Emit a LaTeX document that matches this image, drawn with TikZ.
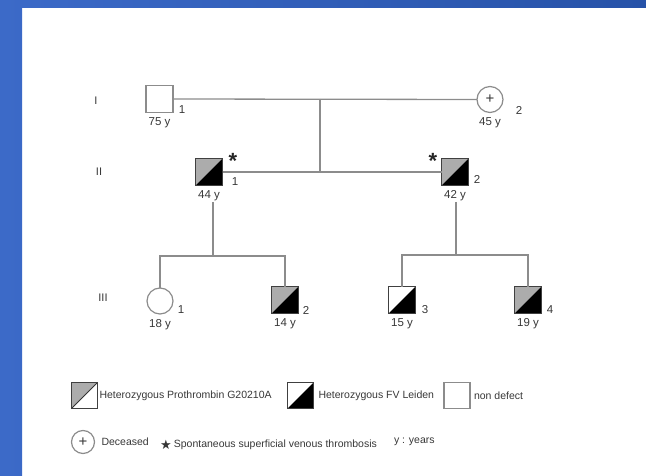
\documentclass[tikz,border=0pt]{standalone}
\usepackage{fontspec}
\setmainfont{Liberation Sans}
\newfontfamily\symfont{DejaVu Sans}
\usetikzlibrary{
    calc,
    positioning,
    shapes.geometric
}
\definecolor{framelight}{RGB}{60,106,200}
\definecolor{framedark}{RGB}{38,82,168}
\definecolor{linegray}{RGB}{140,140,140}
\definecolor{textgray}{RGB}{55,55,55}
\definecolor{halfgray}{RGB}{172,172,172}
\tikzset{
    every picture/.style = {
        line width = 1.2pt
    },
    every node/.style = {
        inner sep = 1pt,
        outer sep = 0pt,
        text = textgray,
        font = \fontsize{11.5}{13}\selectfont
    },
    kin/.style = {
        draw = linegray,
        line width = 1.3pt
    },
    male/.style = {
        rectangle,
        draw = black!75,
        line width = 1.3pt,
        minimum size = 27pt
    },
    healthy/.style = {
        rectangle,
        draw = linegray,
        line width = 1.3pt,
        minimum size = 27pt
    },
    female/.style = {
        circle,
        draw = linegray,
        line width = 1.2pt,
        minimum size = 26pt,
        font = \fontsize{15}{15}\selectfont
    },
    prothr/.style = {
        path picture = {
            \fill[halfgray] (path picture bounding box.north west) -- (path picture bounding box.south west)
                -- (path picture bounding box.north east) -- cycle;
            \draw[black!80, line width = 1pt] (path picture bounding box.south west)
                -- (path picture bounding box.north east);
        }
    },
    fvl/.style = {
        path picture = {
            \fill[black] (path picture bounding box.south west) -- (path picture bounding box.south east)
                -- (path picture bounding box.north east) -- cycle;
        }
    },
    both/.style = {
        path picture = {
            \fill[halfgray] (path picture bounding box.north west) -- (path picture bounding box.south west)
                -- (path picture bounding box.north east) -- cycle;
            \fill[black] (path picture bounding box.south west) -- (path picture bounding box.south east)
                -- (path picture bounding box.north east) -- cycle;
        }
    },
    gen/.style = {
        font = \fontsize{11}{13}\selectfont
    },
    legend/.style = {
        font = \fontsize{10.5}{12}\selectfont
    },
    mark star/.style = {
        font = \fontsize{22}{22}\selectfont\bfseries,
        text = black!85
    }
}

\begin{document}
\begin{tikzpicture}[
                        x = 1pt,
                        y = -1pt,
                        node distance = 4pt
                    ]
    \useasboundingbox (0,0) rectangle (646,476);
    % frame
    \shade[left color = framelight, right color = framedark]
        (0,0) -- (646,0) -- (646,8) -- (22,8) -- (22,476) -- (0,476) -- cycle;

    % generation labels
    \node[gen] (gI) at (96,101) {I};
    \node[gen] (gII) at (99,172) {II};
    \node[gen] (gIII) at (103,298) {III};

    % generation I
    \node[healthy] (I1) at (159.5,99) {};
    \node[female] (I2) at (490,99.5) {+};
    \node (I1-no) at (182,110) {1};
    \node (I2-no) at (519,110) {2};
    \node (I1-age) [below = of I1] {75 y};
    \node (I2-age) [below = of I2] {45 y};

    % generation II
    \node[male, both] (II1) at (209,172) {};
    \node[male, both] (II2) at (455,172) {};
    \node (II1-no) at (235,182) {1};
    \node (II2-no) at (477,179) {2};
    \node (II1-age) [below = of II1] {44 y};
    \node (II2-age) [below = of II2] {42 y};
    \node[mark star] (II1-st) at (233,161) {*};
    \node[mark star] (II2-st) at (433,161) {*};

    % generation III
    \node[female] (III1) at (160,301) {};
    \node[male, both] (III2) at (285,300) {};
    \node[male, fvl] (III3) at (402,300) {};
    \node[male, both] (III4) at (528,300) {};
    \node (III1-no) at (181,310) {1};
    \node (III2-no) at (306,310) {2};
    \node (III3-no) at (425,310) {3};
    \node (III4-no) at (550,310) {4};
    \node (III1-age) [below = of III1] {18 y};
    \node (III2-age) [below = of III2] {14 y};
    \node (III3-age) [below = of III3] {15 y};
    \node (III4-age) [below = of III4] {19 y};

    % lines
    \coordinate (mI) at (320,99);
    \coordinate (mII) at (320,172);
    \coordinate (sib1) at (213,256);
    \coordinate (sib2) at (456,255);
    \draw[kin] (I1.east) -- (I2.west);
    \draw[kin] (II1.east) -- (II2.west);
    \draw[kin] (mI) -- (mII);
    \draw[kin] (sib1 |- II1-age.south) -- (sib1);
    \draw[kin] (sib2 |- II2-age.south) -- (sib2);
    \draw[kin] (III1.north) |- (sib1) -| (III2.north);
    \draw[kin] (III3.north) |- (sib2) -| (III4.north);

    % legend
    \node[male, prothr, minimum size = 26pt] (L1) at (84.5,395.5) {};
    \node[male, fvl, minimum size = 26pt] (L2) at (300.5,395.5) {};
    \node[healthy, minimum size = 26pt] (L3) at (457,395.5) {};
    \node[legend] (L1-txt) [right = 1pt of L1] {Heterozygous Prothrombin G20210A};
    \node[legend] (L2-txt) [right = 4pt of L2] {Heterozygous FV Leiden};
    \node[legend] (L3-txt) [right = 3pt of L3] {non defect};
    \node[female, minimum size = 23pt] (L4) at (83,442) {+};
    \node[legend] (L4-txt) [right = 6pt of L4] {Deceased};
    \node (L5) at (166,444.5) {\symfont\fontsize{13}{13}\selectfont ★};
    \node[legend] (L5-txt) [right = 0pt of L5] {Spontaneous superficial venous thrombosis};
    \node[legend, anchor = west] (L6-txt) at (393,442) {y : years};
\end{tikzpicture}
\end{document}
